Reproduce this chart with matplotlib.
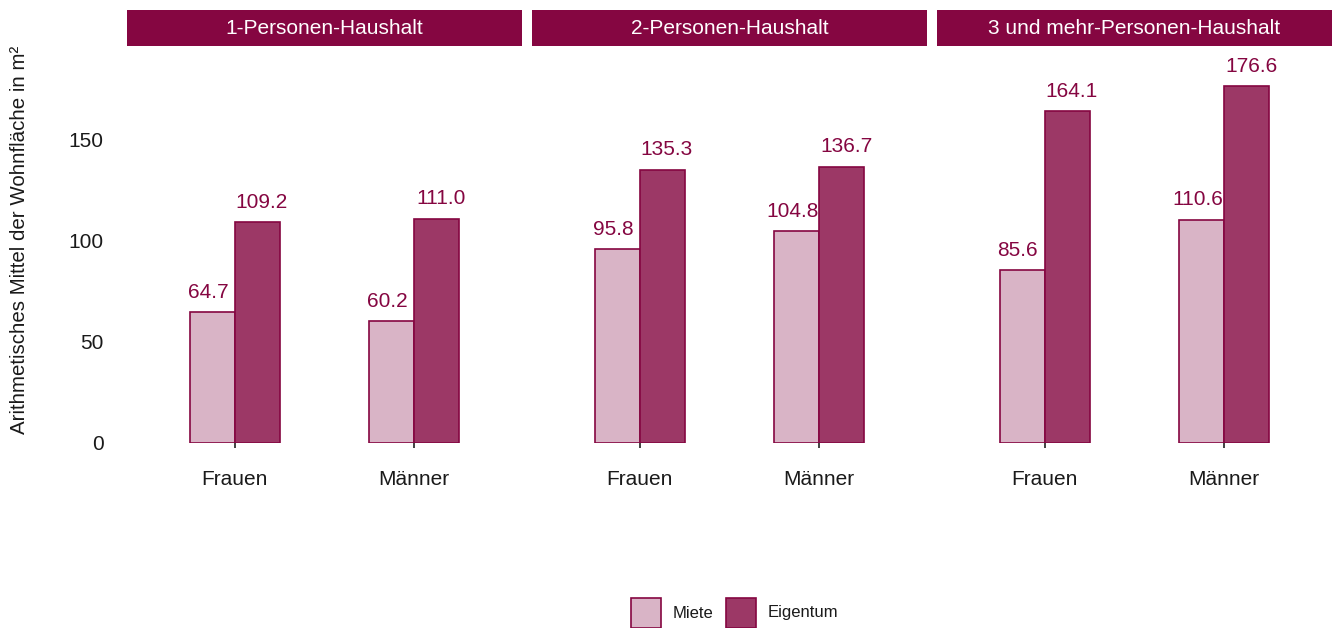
import matplotlib
matplotlib.use("Agg")
import matplotlib.pyplot as plt
from matplotlib.patches import Rectangle
import numpy as np

plt.rcParams['font.family'] = ['Liberation Sans', 'DejaVu Sans']

panels = ["1-Personen-Haushalt", "2-Personen-Haushalt", "3 und mehr-Personen-Haushalt"]
genders = ["Frauen", "Männer"]
series = ["Miete", "Eigentum"]
miete = [[64.7, 60.2], [95.8, 104.8], [85.6, 110.6]]
eigentum = [[109.2, 111.0], [135.3, 136.7], [164.1, 176.6]]
yticks = [0, 50, 100, 150]
ylabel = "Arithmetisches Mittel der Wohnfläche in m²"

W, H = 1337, 628
fig = plt.figure(figsize=(W / 100, H / 100), dpi=100)

col_miete = "#d9b4c6"
col_eig = "#9c3866"
edge = "#850641"
strip_col = "#850641"
txt_col = "#1a1a1a"

panel_left = [127, 532, 937]
panel_w = 395
top_px, bot_px = 50, 443

def fx(px):
    return px / W

def fy(py):
    return 1 - py / H

bw = 0.25
for i, name in enumerate(panels):
    ax = fig.add_axes([fx(panel_left[i]), fy(bot_px), fx(panel_w), (bot_px - top_px) / H])
    x = np.arange(1, len(genders) + 1)
    b1 = ax.bar(x - bw / 2, miete[i], width=bw, color=col_miete, edgecolor=edge, linewidth=1.2)
    b2 = ax.bar(x + bw / 2, eigentum[i], width=bw, color=col_eig, edgecolor=edge, linewidth=1.2)
    for bars, vals, dx in ((b1, miete[i], -3.2), (b2, eigentum[i], 3.2)):
        for r, v in zip(bars, vals):
            ax.annotate(f"{v:.1f}", (r.get_x() + r.get_width() / 2, v),
                        xytext=(dx, 10.3), textcoords="offset points",
                        ha="center", va="baseline", color=edge, fontsize=15)
    ax.set_xlim(0.4, 2.6)
    ax.set_ylim(0, 194.5)
    ax.set_xticks(x)
    ax.set_xticklabels(genders, fontsize=15, color=txt_col)
    ax.tick_params(axis="x", length=3.6, width=1.3, color="#333333", pad=15.5)
    if i == 0:
        ax.set_yticks(yticks)
        ax.set_yticklabels([str(t) for t in yticks], fontsize=15, color=txt_col)
        ax.tick_params(axis="y", length=0, pad=17)
    else:
        ax.set_yticks([])
    for s in ax.spines.values():
        s.set_visible(False)
    ax.patch.set_alpha(0)
    # strip
    fig.patches.append(Rectangle((fx(panel_left[i]), fy(46)), fx(panel_w), 36 / H,
                                 transform=fig.transFigure, facecolor=strip_col,
                                 edgecolor="none"))
    fig.text(fx(panel_left[i] + panel_w / 2), fy(28), name, color="white",
             fontsize=15, ha="center", va="center")

fig.text(fx(20), fy(240), ylabel, rotation=90, fontsize=14.8, color=txt_col,
         ha="center", va="center")

# legend
for px, lab, c in ((631, "Miete", col_miete), (726, "Eigentum", col_eig)):
    fig.patches.append(Rectangle((fx(px), fy(628)), fx(30), 30 / H,
                                 transform=fig.transFigure, facecolor=c,
                                 edgecolor=edge, linewidth=1.2))
    fig.text(fx(px + 42), fy(613), lab, fontsize=12, color=txt_col,
             ha="left", va="center")

fig.savefig("out.png", dpi=100, facecolor="white")
